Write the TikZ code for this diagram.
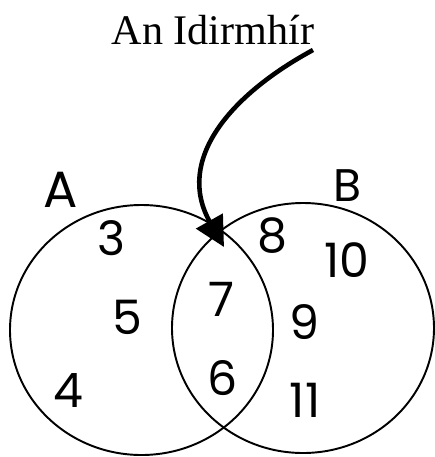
\documentclass[tikz,border=0pt]{standalone}
\usepackage{fontspec}
\setmainfont{Liberation Serif}
\newfontfamily\vennfont{Poppins}
\usepackage{tikz}
\usetikzlibrary{positioning}
\usetikzlibrary{arrows.meta}

\begin{document}
\begin{tikzpicture}[x=0.02cm,y=-0.02cm,
    setline/.style={line width=1.1pt},
    elem/.style={font=\vennfont\fontsize{27}{29}\selectfont},
    setname/.style={font=\vennfont\fontsize{29}{31}\selectfont}]
    \useasboundingbox (0,0) rectangle (435,457);

    % Draw the two sets
    \draw[setline] (141.5,330) ellipse [x radius=131.5, y radius=125];
    \draw[setline] (303,328) ellipse [x radius=131, y radius=125];

    % Set names
    \node[setname] (nameA) at (61,190) {A};
    \node[setname, font=\vennfont\fontsize{26}{28}\selectfont] (nameB) at (347,186) {B};

    % Draw the elements
    \foreach \n/\px/\py in {3/111/238, 5/127/317, 4/68/391,
                            7/221/299, 6/223/378,
                            8/272/236, 10/347/260, 9/304/322, 11/305/400} {
        \node[elem] (e\n) at (\px,\py) {\n};
    }

    % Label and arrow to the intersection
    \node (title) at (213,30) {\fontsize{24}{26}\selectfont An Idirmhír};
    \coordinate (tail) at (313,50);
    \coordinate (tip) at (224,247);
    \draw[line width=2.6pt, -{Triangle[length=17pt, width=17pt]}]
        (tail) .. controls (230,95) and (175,160) .. (tip);
\end{tikzpicture}
\end{document}
